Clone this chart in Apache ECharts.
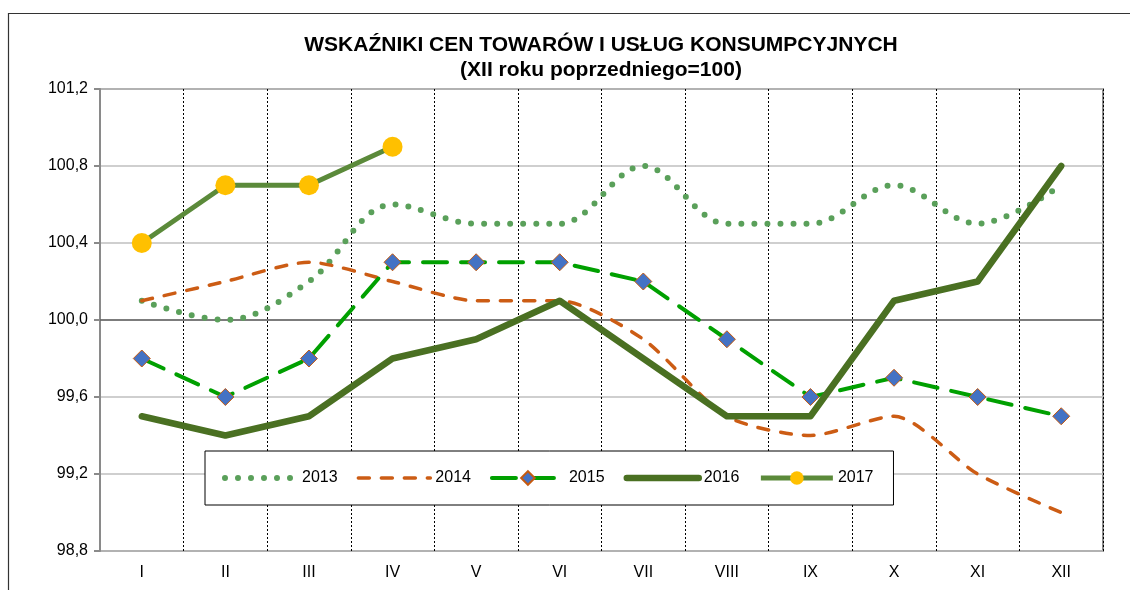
<!DOCTYPE html>
<html><head><meta charset="utf-8">
<script src="https://cdn.jsdelivr.net/npm/echarts@6/dist/echarts.min.js"></script>
<style>html,body{margin:0;padding:0;background:#fff}#c{width:1130px;height:590px}</style>
</head><body><div id="c"></div>
<script>
const months = ['I','II','III','IV','V','VI','VII','VIII','IX','X','XI','XII'];
const s2013 = [100.1,100.0,100.2,100.6,100.5,100.5,100.8,100.5,100.5,100.7,100.5,100.7];
const s2014 = [100.1,100.2,100.3,100.2,100.1,100.1,99.9,99.5,99.4,99.5,99.2,99.0];
const s2015 = [99.8,99.6,99.8,100.3,100.3,100.3,100.2,99.9,99.6,99.7,99.6,99.5];
const s2016 = [99.5,99.4,99.5,99.8,99.9,100.1,99.8,99.5,99.5,100.1,100.2,100.8];
const s2017 = [100.4,100.7,100.7,100.9];
const yMin = 98.8, yMax = 101.2, yStep = 0.4, refLine = 100.0;
const titleLines = ['WSKAŹNIKI CEN TOWARÓW I USŁUG KONSUMPCYJNYCH','(XII roku poprzedniego=100)'];

const FONT = '"Liberation Sans", Arial, sans-serif';
const chart = echarts.init(document.getElementById('c'));
const hideSym = {opacity:0};
chart.setOption({
  animation: false,
  backgroundColor: '#fff',
  graphic: [
    {type:'rect', shape:{x:8.5,y:13.5,width:1200,height:700}, style:{fill:'none',stroke:'#333',lineWidth:1.2}, z:-10},
    {type:'text', style:{text:titleLines[0], x:601, y:45, textAlign:'center', textVerticalAlign:'middle', font:'bold 21px '+FONT, fill:'#000'}},
    {type:'text', style:{text:titleLines[1], x:601, y:70, textAlign:'center', textVerticalAlign:'middle', font:'bold 21px '+FONT, fill:'#000'}}
  ],
  grid: {left:100, right:27, top:89, bottom:39, show:true, borderColor:'#8a8a8a', borderWidth:2},
  legend: {
    left: 205, top: 451, orient:'horizontal',
    backgroundColor:'#fff', borderColor:'#000', borderWidth:1,
    padding:[19,20,19,17], itemWidth:72, itemHeight:17, itemGap:19,
    textStyle:{fontFamily:FONT, fontSize:16, color:'#000'},
    data:[
      {name:'2013', itemStyle:hideSym, lineStyle:{width:'inherit'}},
      {name:'2014', itemStyle:hideSym, lineStyle:{width:'inherit'}},
      {name:'2015', lineStyle:{width:'inherit'}},
      {name:'2016', itemStyle:hideSym, lineStyle:{width:'inherit'}},
      {name:'2017', lineStyle:{width:'inherit'}}
    ]
  },
  xAxis: {
    type:'category', data:months, boundaryGap:true,
    axisLine:{show:false}, axisTick:{show:false},
    axisLabel:{fontFamily:FONT, fontSize:16, color:'#000', margin:14},
    splitLine:{show:true, lineStyle:{color:'#000', type:[2,2], width:1}}
  },
  yAxis: {
    type:'value', min:yMin, max:yMax, interval:yStep,
    axisLine:{show:true, lineStyle:{color:'#8a8a8a', width:2}},
    axisTick:{show:true, length:6, lineStyle:{color:'#8a8a8a', width:2}},
    axisLabel:{fontFamily:FONT, fontSize:16, color:'#000', margin:12,
      formatter: v => v.toFixed(1).replace('.',',')},
    splitLine:{show:true, lineStyle:{color:'#bfbfbf', width:1.5}}
  },
  series: [
    {name:'2013', type:'line', data:s2013, smooth:0.35, symbol:'none',
     lineStyle:{color:'#5aa05a', width:6, type:[0,13], cap:'round'}, itemStyle:{color:'#5aa05a'},
     markLine:{silent:true, symbol:'none', label:{show:false}, lineStyle:{color:'#606060', width:1.5, type:'solid'}, data:[{yAxis:refLine}], z:1}},
    {name:'2014', type:'line', data:s2014, smooth:0.25, symbol:'none',
     lineStyle:{color:'#cc5c14', width:3.5, type:[11,12], cap:'round'}, itemStyle:{color:'#cc5c14'}},
    {name:'2015', type:'line', data:s2015, symbol:'diamond', symbolSize:17, showAllSymbol:true,
     lineStyle:{color:'#00a000', width:4, type:[24,14], cap:'round'},
     itemStyle:{color:'#4472c4', borderColor:'#c55a11', borderWidth:1}},
    {name:'2016', type:'line', data:s2016, symbol:'none',
     lineStyle:{color:'#4a7022', width:6.5, cap:'round', join:'round'}, itemStyle:{color:'#4a7022'}},
    {name:'2017', type:'line', data:s2017, symbol:'circle', symbolSize:20,
     lineStyle:{color:'#5b8a3a', width:5}, itemStyle:{color:'#ffc000', borderWidth:0}}
  ]
});
</script></body></html>
